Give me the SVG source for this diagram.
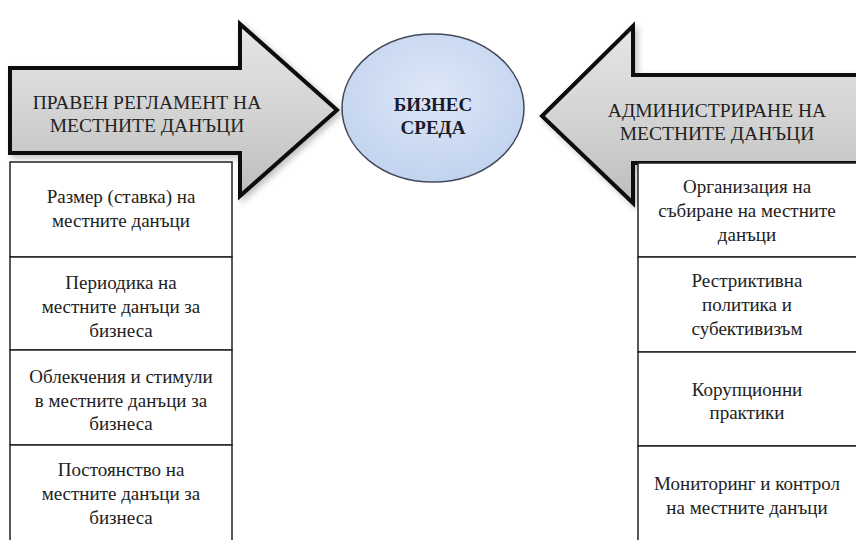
<svg xmlns="http://www.w3.org/2000/svg" width="856" height="540" viewBox="0 0 856 540">
<defs>
<linearGradient id="ag" x1="0" y1="0" x2="0" y2="1">
<stop offset="0" stop-color="#e6e6e6"/>
<stop offset="0.5" stop-color="#d4d4d4"/>
<stop offset="1" stop-color="#bdbdbd"/>
</linearGradient>
<radialGradient id="cg" cx="0.5" cy="0.4" r="0.6">
<stop offset="0" stop-color="#dde7f7"/>
<stop offset="1" stop-color="#c2d3ef"/>
</radialGradient>
<filter id="sh" x="-10%" y="-10%" width="130%" height="130%">
<feGaussianBlur in="SourceAlpha" stdDeviation="3"/>
<feOffset dx="3" dy="3" result="b"/>
<feComponentTransfer><feFuncA type="linear" slope="0.25"/></feComponentTransfer>
<feMerge><feMergeNode/><feMergeNode in="SourceGraphic"/></feMerge>
</filter>
<style>
.arr{fill:url(#ag);stroke:#111;stroke-width:4;stroke-linejoin:miter;filter:url(#sh)}
.box{fill:#fff;stroke:#222;stroke-width:1.5}
text{font-family:'Liberation Serif','Times New Roman',Tinos,serif;fill:#222;text-anchor:middle}
.t{font-size:19px}
.h{font-size:19.5px}
.b{font-size:19px;font-weight:bold;fill:#1a1a2a}
</style>
</defs>
<rect width="856" height="540" fill="#fff"/>
<g id="left-arrow">
<polygon class="arr" points="10,68 240,68 240,24 337,110 240,196 240,153 10,153"/>
<text class="h" x="147" y="109">ПРАВЕН РЕГЛАМЕНТ НА</text>
<text class="h" x="147" y="132">МЕСТНИТЕ ДАНЪЦИ</text>
</g>
<g id="right-arrow">
<polygon class="arr" points="860,75 633,75 633,26 542,116 633,203 633,163 860,163"/>
<text class="h" x="717" y="117">АДМИНИСТРИРАНЕ НА</text>
<text class="h" x="717" y="140">МЕСТНИТЕ ДАНЪЦИ</text>
</g>
<g id="business">
<ellipse cx="433" cy="108" rx="91" ry="74" fill="url(#cg)" stroke="#444a5a" stroke-width="1.5"/>
<text class="b" x="433" y="111">БИЗНЕС</text>
<text class="b" x="433" y="134">СРЕДА</text>
</g>
<g id="left-boxes">
<g id="l1"><rect class="box" x="10" y="162" width="222" height="95"/>
<text class="t" x="121" y="203">Размер (ставка) на</text>
<text class="t" x="121" y="227">местните данъци</text></g>
<g id="l2"><rect class="box" x="10" y="257" width="222" height="93"/>
<text class="t" x="121" y="289">Периодика на</text>
<text class="t" x="121" y="313">местните данъци за</text>
<text class="t" x="121" y="337">бизнеса</text></g>
<g id="l3"><rect class="box" x="10" y="350" width="222" height="95"/>
<text class="t" x="121" y="383">Облекчения и стимули</text>
<text class="t" x="121" y="407">в местните данъци за</text>
<text class="t" x="121" y="430">бизнеса</text></g>
<g id="l4"><rect class="box" x="10" y="445" width="222" height="100"/>
<text class="t" x="121" y="476">Постоянство на</text>
<text class="t" x="121" y="500">местните данъци за</text>
<text class="t" x="121" y="524">бизнеса</text></g>
</g>
<g id="right-boxes">
<g id="r1"><rect class="box" x="638" y="163" width="220" height="94"/>
<text class="t" x="747" y="193">Организация на</text>
<text class="t" x="747" y="217">събиране на местните</text>
<text class="t" x="747" y="241">данъци</text></g>
<g id="r2"><rect class="box" x="638" y="257" width="220" height="95"/>
<text class="t" x="747" y="287">Рестриктивна</text>
<text class="t" x="747" y="311">политика и</text>
<text class="t" x="747" y="335">субективизъм</text></g>
<g id="r3"><rect class="box" x="638" y="352" width="220" height="94"/>
<text class="t" x="747" y="396">Корупционни</text>
<text class="t" x="747" y="419">практики</text></g>
<g id="r4"><rect class="box" x="638" y="446" width="220" height="100"/>
<text class="t" x="747" y="490">Мониторинг и контрол</text>
<text class="t" x="747" y="514">на местните данъци</text></g>
</g>
</svg>
